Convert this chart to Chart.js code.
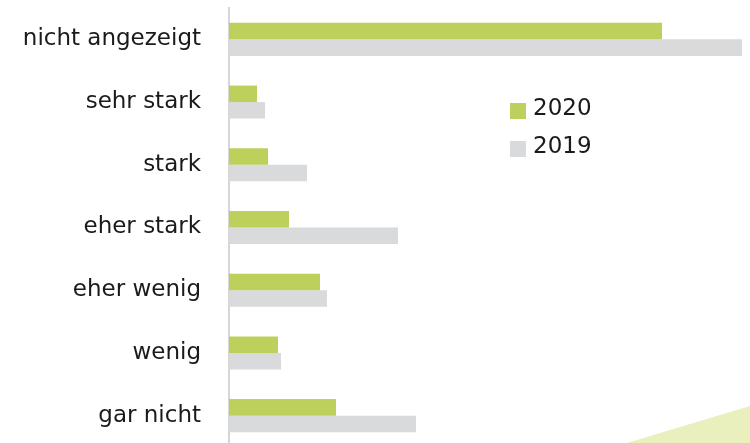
<!DOCTYPE html>
<html>
<head>
<meta charset="utf-8">
<script src="https://cdn.jsdelivr.net/npm/chart.js@4"></script>
<style>
  html, body { margin: 0; padding: 0; background: #fff; overflow: hidden; }
  #wrap { position: relative; width: 750px; height: 447px; }
</style>
</head>
<body>
<div id="wrap"><canvas id="chart"></canvas></div>
<script>
const categories = ["nicht angezeigt", "sehr stark", "stark", "eher stark", "eher wenig", "wenig", "gar nicht"];
const values2020 = [43.3, 2.8, 3.9, 6.0, 9.1, 4.9, 10.7];
const values2019 = [51.3, 3.6, 7.8, 16.9, 9.8, 5.2, 18.7];

const GREEN = "#bdd05c";
const GREY = "#d9dadc";
const FONT = "'DejaVu Sans', Verdana, sans-serif";

// light green corner wedge bottom right
const cornerShape = {
  id: "cornerShape",
  beforeDraw(chart) {
    const ctx = chart.ctx;
    ctx.save();
    ctx.fillStyle = "#e9efbd";
    ctx.beginPath();
    ctx.moveTo(627, 443);
    ctx.lineTo(750, 406);
    ctx.lineTo(750, 447);
    ctx.lineTo(627, 447);
    ctx.closePath();
    ctx.fill();
    ctx.restore();
  },
};

// legend drawn inside the plot, stacked vertically
const boxLegend = {
  id: "boxLegend",
  afterDraw(chart) {
    const ctx = chart.ctx;
    ctx.save();
    ctx.font = "23px " + FONT;
    ctx.textBaseline = "middle";
    chart.data.datasets.forEach((ds, i) => {
      const y = 103 + i * 38;
      ctx.fillStyle = ds.backgroundColor;
      ctx.fillRect(510, y, 16, 16);
      ctx.fillStyle = "#1a1a1a";
      ctx.fillText(ds.label, 533, y + 6);
    });
    ctx.restore();
  },
};

new Chart(document.getElementById("chart").getContext("2d"), {
  type: "bar",
  data: {
    labels: categories,
    datasets: [
      { label: "2020", data: values2020, backgroundColor: GREEN },
      { label: "2019", data: values2019, backgroundColor: GREY },
    ],
  },
  options: {
    indexAxis: "y",
    responsive: true,
    maintainAspectRatio: false,
    animation: false,
    layout: { padding: { top: 8, right: 0, bottom: 0, left: 0 } },
    datasets: {
      bar: { categoryPercentage: 0.527, barPercentage: 1 },
    },
    plugins: {
      legend: { display: false },
      tooltip: { enabled: false },
    },
    scales: {
      x: { display: false, min: 0, max: 52.1 },
      y: {
        grid: { display: false, drawTicks: false },
        border: { display: true, color: "#d6d6d6", width: 2 },
        ticks: {
          color: "#1a1a1a",
          padding: 28,
          font: { family: FONT, size: 23 },
        },
        afterFit: (s) => {
          s.width = 229;
          s.paddingTop = 0;
          s.paddingBottom = 0;
        },
      },
    },
  },
  plugins: [cornerShape, boxLegend],
});
</script>
</body>
</html>
